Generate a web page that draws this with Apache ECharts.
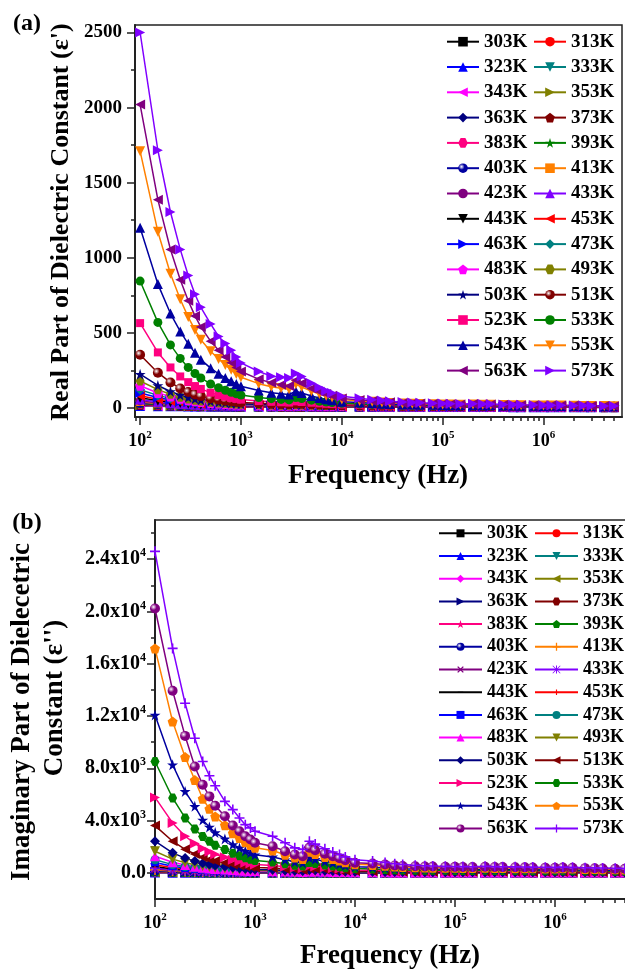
<!DOCTYPE html>
<html>
<head>
<meta charset="utf-8">
<script src="https://cdn.jsdelivr.net/npm/echarts@6/dist/echarts.min.js"></script>
<style>
  html, body { margin: 0; padding: 0; background: #fff; }
  #chartA { position: absolute; left: 0; top: 0; width: 625px; height: 490px; }
  #chartB { position: absolute; left: 0; top: 490px; width: 625px; height: 481px; }
</style>
</head>
<body>
<div id="chartA"></div>
<div id="chartB"></div>
<script>
// frequencies (Hz)
const freq = [100, 150, 200, 250, 300, 350, 400, 500, 600, 700, 800, 900, 1000, 1500, 2000, 2500, 3000, 3500, 4000, 5000,
  6000, 7000, 8000, 10000, 15000, 20000, 25000, 30000, 40000, 50000, 60000, 80000, 100000, 120000, 150000, 200000, 250000, 300000, 400000, 500000,
  600000, 800000, 1000000, 1200000, 1500000, 2000000, 2500000, 3000000, 4000000, 5000000];

const temps = ['303K', '313K', '323K', '333K', '343K', '353K', '363K', '373K', '383K', '393K', '403K', '413K', '423K', '433K',
  '443K', '453K', '463K', '473K', '483K', '493K', '503K', '513K', '523K', '533K', '543K', '553K', '563K', '573K'];

// tick labels
const xExponents = [2, 3, 4, 5, 6];
const yTicksA = [0, 500, 1000, 1500, 2000, 2500];
const yMinorA = [250, 750, 1250, 1750, 2250];
const yTicksB = [0, 4000, 8000, 12000, 16000, 20000, 24000];
const yMinorB = [2000, 6000, 10000, 14000, 18000, 22000, 26000];

// (a) real part, eps'
const re303 = [12, 11, 10, 10, 9, 9, 9, 9, 8, 8, 8, 8, 8, 8, 8, 7, 7, 7, 7, 7, 7, 7, 7, 6, 6, 6, 6, 6, 6, 6, 6, 6, 6, 5, 5, 5, 5, 5, 5, 5, 5, 5, 5, 5, 5, 5, 5, 4, 4, 4];
const re313 = [13, 12, 11, 10, 10, 10, 9, 9, 9, 9, 8, 8, 8, 8, 8, 8, 8, 8, 8, 7, 7, 7, 7, 7, 7, 6, 6, 6, 6, 6, 6, 6, 6, 6, 6, 6, 6, 5, 5, 5, 5, 5, 5, 5, 5, 5, 5, 5, 5, 4];
const re323 = [14, 12, 11, 11, 10, 10, 10, 9, 9, 9, 9, 9, 8, 8, 8, 8, 8, 8, 8, 8, 7, 7, 7, 7, 7, 7, 7, 6, 6, 6, 6, 6, 6, 6, 6, 6, 6, 6, 6, 5, 5, 5, 5, 5, 5, 5, 5, 5, 5, 5];
const re333 = [15, 13, 12, 11, 11, 10, 10, 10, 9, 9, 9, 9, 9, 8, 8, 8, 8, 8, 8, 8, 8, 7, 7, 7, 7, 7, 7, 7, 6, 6, 6, 6, 6, 6, 6, 6, 6, 6, 6, 6, 6, 5, 5, 5, 5, 5, 5, 5, 5, 5];
const re343 = [16, 14, 13, 12, 11, 11, 10, 10, 10, 10, 9, 9, 9, 9, 9, 8, 8, 9, 8, 8, 8, 8, 8, 7, 7, 7, 7, 7, 7, 7, 7, 6, 6, 6, 6, 6, 6, 6, 6, 6, 6, 6, 6, 6, 5, 5, 5, 5, 5, 5];
const re353 = [18, 15, 14, 13, 12, 12, 11, 11, 10, 10, 10, 10, 10, 9, 9, 9, 9, 9, 9, 8, 8, 8, 8, 8, 8, 7, 7, 7, 7, 7, 7, 7, 7, 6, 6, 7, 6, 6, 6, 6, 6, 6, 6, 6, 6, 6, 5, 5, 5, 5];
const re363 = [20, 17, 15, 14, 13, 12, 12, 11, 11, 11, 10, 10, 10, 10, 9, 9, 9, 9, 9, 9, 8, 8, 8, 8, 8, 8, 7, 7, 7, 7, 7, 7, 7, 7, 7, 7, 7, 6, 6, 6, 6, 6, 6, 6, 6, 6, 6, 5, 5, 5];
const re373 = [22, 18, 16, 15, 14, 13, 12, 12, 11, 11, 11, 11, 10, 10, 10, 9, 9, 10, 9, 9, 9, 9, 8, 8, 8, 8, 8, 8, 7, 7, 7, 7, 7, 7, 7, 7, 7, 7, 7, 6, 6, 6, 6, 6, 6, 6, 6, 6, 5, 5];
const re383 = [25, 20, 17, 16, 15, 14, 13, 12, 12, 12, 11, 11, 11, 10, 10, 10, 10, 10, 10, 10, 9, 9, 9, 9, 8, 8, 8, 8, 8, 8, 8, 7, 7, 7, 7, 7, 7, 7, 7, 7, 7, 6, 6, 6, 6, 6, 6, 6, 6, 5];
const re393 = [29, 23, 19, 17, 16, 15, 14, 13, 13, 12, 12, 12, 11, 11, 11, 10, 10, 11, 10, 10, 10, 9, 9, 9, 9, 9, 8, 8, 8, 8, 8, 8, 8, 8, 8, 8, 7, 7, 7, 7, 7, 7, 7, 7, 7, 6, 6, 6, 6, 6];
const re403 = [34, 26, 22, 19, 18, 16, 15, 14, 14, 13, 13, 12, 12, 11, 11, 11, 11, 11, 11, 10, 10, 10, 10, 9, 9, 9, 9, 9, 9, 8, 8, 8, 8, 8, 8, 8, 8, 8, 7, 7, 7, 7, 7, 7, 7, 7, 6, 6, 6, 6];
const re413 = [40, 30, 25, 22, 20, 18, 17, 16, 15, 14, 14, 13, 13, 12, 12, 11, 11, 12, 12, 11, 11, 10, 10, 10, 10, 9, 9, 9, 9, 9, 9, 8, 8, 8, 8, 8, 8, 8, 8, 8, 7, 7, 7, 7, 7, 7, 7, 7, 6, 6];
const re423 = [47, 35, 29, 25, 22, 20, 19, 17, 16, 15, 15, 14, 14, 13, 12, 12, 12, 13, 12, 12, 11, 11, 11, 10, 10, 10, 10, 9, 9, 9, 9, 9, 9, 9, 8, 9, 8, 8, 8, 8, 8, 8, 7, 8, 7, 7, 7, 7, 7, 6];
const re433 = [56, 41, 33, 28, 25, 23, 21, 19, 18, 17, 16, 15, 15, 14, 13, 13, 12, 14, 13, 12, 12, 12, 11, 11, 11, 10, 10, 10, 10, 10, 9, 9, 9, 9, 9, 9, 9, 9, 8, 8, 8, 8, 8, 8, 8, 8, 7, 7, 7, 7];
const re443 = [68, 49, 39, 33, 29, 26, 24, 21, 20, 18, 18, 17, 16, 15, 14, 14, 13, 15, 14, 13, 13, 12, 12, 12, 11, 11, 11, 10, 10, 10, 10, 10, 9, 9, 9, 10, 9, 9, 9, 9, 8, 8, 8, 8, 8, 8, 8, 7, 7, 7];
const re453 = [82, 58, 46, 38, 33, 30, 27, 24, 22, 20, 19, 18, 18, 16, 15, 14, 14, 16, 15, 14, 13, 13, 13, 12, 12, 11, 11, 11, 10, 10, 10, 10, 10, 10, 9, 10, 9, 9, 9, 9, 9, 9, 8, 9, 8, 8, 8, 8, 8, 7];
const re463 = [100, 70, 54, 44, 38, 34, 31, 27, 24, 22, 21, 20, 19, 17, 16, 15, 15, 17, 16, 15, 14, 14, 13, 13, 12, 12, 11, 11, 11, 11, 10, 10, 10, 10, 10, 10, 10, 10, 9, 9, 9, 9, 9, 9, 9, 8, 8, 8, 8, 8];
const re473 = [122, 84, 64, 52, 44, 39, 35, 30, 27, 25, 23, 22, 21, 18, 17, 16, 16, 18, 17, 16, 15, 15, 14, 14, 13, 12, 12, 12, 11, 11, 11, 11, 11, 10, 10, 11, 10, 10, 10, 10, 9, 9, 9, 9, 9, 9, 8, 8, 8, 8];
const re483 = [148, 100, 76, 61, 51, 45, 40, 34, 30, 27, 25, 24, 23, 20, 18, 17, 17, 19, 18, 17, 16, 15, 15, 14, 13, 13, 12, 12, 12, 12, 11, 11, 11, 11, 11, 11, 11, 10, 10, 10, 10, 10, 9, 10, 9, 9, 9, 9, 8, 8];
const re493 = [180, 122, 91, 72, 60, 52, 46, 39, 34, 31, 28, 26, 25, 22, 20, 19, 18, 21, 20, 18, 17, 16, 16, 15, 14, 13, 13, 13, 12, 12, 12, 12, 11, 11, 11, 12, 11, 11, 11, 10, 10, 10, 10, 10, 10, 9, 9, 9, 9, 9];
const re503 = [225, 150, 110, 86, 71, 61, 54, 45, 39, 35, 32, 30, 28, 24, 22, 21, 20, 24, 22, 20, 19, 18, 17, 16, 15, 14, 14, 13, 13, 13, 12, 12, 12, 12, 11, 12, 11, 11, 11, 11, 10, 10, 10, 10, 10, 10, 9, 9, 9, 9];
const re513 = [355, 235, 170, 130, 106, 90, 79, 64, 55, 48, 44, 40, 37, 31, 28, 26, 25, 30, 28, 25, 23, 21, 20, 18, 17, 16, 15, 15, 14, 14, 13, 13, 13, 12, 12, 13, 12, 12, 12, 11, 11, 11, 10, 11, 10, 10, 10, 10, 9, 9];
const re523 = [565, 370, 270, 210, 172, 146, 127, 102, 86, 75, 67, 61, 56, 46, 41, 38, 36, 44, 40, 35, 31, 28, 26, 23, 21, 19, 18, 17, 16, 15, 15, 14, 14, 13, 13, 14, 13, 13, 12, 12, 12, 11, 11, 12, 11, 11, 10, 10, 10, 9];
const re533 = [845, 570, 420, 330, 270, 230, 200, 160, 135, 118, 105, 95, 86, 70, 62, 57, 54, 70, 63, 52, 45, 40, 36, 31, 27, 24, 22, 21, 19, 18, 17, 16, 16, 15, 15, 16, 15, 15, 14, 14, 13, 13, 12, 13, 12, 12, 11, 11, 11, 10];
const re543 = [1200, 825, 629, 510, 427, 367, 322, 265, 228, 200, 178, 160, 145, 116, 101, 94, 90, 112, 100, 80, 67, 59, 52, 42, 36, 31, 29, 27, 24, 23, 22, 21, 20, 19, 18, 19, 18, 18, 17, 16, 15, 15, 14, 15, 14, 14, 13, 13, 12, 11];
const re553 = [1710, 1174, 894, 724, 605, 520, 455, 378, 326, 286, 254, 227, 205, 162, 142, 132, 125, 158, 140, 112, 93, 80, 70, 56, 47, 41, 37, 34, 30, 29, 27, 25, 24, 23, 22, 23, 22, 21, 20, 19, 18, 17, 16, 16, 16, 15, 14, 14, 13, 12];
const re563 = [2020, 1387, 1055, 854, 714, 613, 540, 445, 385, 340, 302, 270, 243, 192, 168, 155, 147, 184, 164, 130, 108, 93, 81, 64, 54, 46, 42, 38, 34, 32, 30, 28, 26, 25, 24, 26, 24, 23, 21, 20, 19, 18, 17, 18, 17, 16, 15, 14, 13, 12];
const re573 = [2500, 1716, 1305, 1056, 882, 757, 670, 560, 476, 430, 385, 340, 300, 243, 212, 205, 200, 230, 210, 165, 136, 115, 99, 78, 65, 55, 50, 45, 40, 37, 35, 32, 30, 29, 27, 29, 27, 26, 24, 22, 21, 20, 18, 19, 18, 17, 16, 15, 14, 13];

// (b) imaginary part, eps''
const im303 = [15, 10, 7, 6, 5, 4, 4, 3, 3, 3, 2, 2, 2, 2, 2, 2, 1, 2, 2, 1, 1, 1, 1, 1, 1, 1, 1, 1, 1, 1, 1, 1, 1, 1, 1, 1, 1, 1, 1, 1, 1, 1, 1, 1, 1, 1, 1, 1, 1, 1];
const im313 = [18, 12, 9, 7, 6, 5, 5, 4, 3, 3, 3, 3, 2, 2, 2, 2, 2, 2, 2, 2, 1, 1, 1, 1, 1, 1, 1, 1, 1, 1, 1, 1, 1, 1, 1, 1, 1, 1, 1, 1, 1, 1, 1, 1, 1, 1, 1, 1, 1, 1];
const im323 = [22, 14, 11, 9, 7, 6, 6, 5, 4, 4, 3, 3, 3, 3, 2, 2, 2, 2, 2, 2, 2, 2, 1, 1, 1, 1, 1, 1, 1, 1, 1, 1, 1, 1, 1, 1, 1, 1, 1, 1, 1, 1, 1, 1, 1, 1, 1, 1, 1, 1];
const im333 = [28, 18, 13, 11, 9, 8, 7, 6, 5, 5, 4, 4, 4, 3, 3, 2, 2, 3, 3, 2, 2, 2, 2, 1, 1, 1, 1, 1, 1, 1, 1, 1, 1, 1, 1, 1, 1, 1, 1, 1, 1, 1, 1, 1, 1, 1, 1, 1, 1, 1];
const im343 = [35, 23, 17, 13, 11, 10, 9, 7, 6, 6, 5, 5, 4, 4, 3, 3, 3, 3, 3, 3, 2, 2, 2, 2, 2, 1, 1, 1, 1, 1, 1, 1, 1, 1, 1, 1, 1, 1, 1, 1, 1, 1, 1, 1, 1, 1, 1, 1, 1, 1];
const im353 = [45, 29, 21, 17, 14, 12, 11, 9, 8, 7, 6, 6, 5, 5, 4, 3, 3, 4, 4, 3, 3, 3, 2, 2, 2, 2, 2, 2, 1, 1, 1, 1, 1, 1, 1, 1, 1, 1, 1, 1, 1, 1, 1, 1, 1, 1, 1, 1, 1, 1];
const im363 = [60, 38, 28, 22, 19, 16, 14, 12, 10, 9, 8, 7, 7, 6, 5, 4, 4, 5, 5, 4, 4, 3, 3, 3, 2, 2, 2, 2, 2, 2, 2, 2, 2, 2, 2, 2, 2, 2, 1, 1, 1, 1, 1, 1, 1, 1, 1, 1, 1, 1];
const im373 = [80, 51, 38, 30, 25, 21, 19, 16, 14, 12, 11, 10, 9, 8, 7, 6, 5, 7, 6, 5, 5, 4, 4, 3, 3, 3, 2, 2, 2, 2, 2, 2, 2, 2, 2, 2, 2, 2, 2, 2, 2, 2, 2, 2, 2, 2, 1, 1, 1, 1];
const im383 = [100, 63, 47, 37, 31, 27, 24, 20, 17, 15, 13, 12, 11, 10, 8, 7, 6, 9, 8, 7, 6, 5, 5, 4, 3, 3, 3, 3, 2, 2, 2, 2, 2, 2, 2, 2, 2, 2, 2, 2, 2, 2, 2, 2, 2, 2, 2, 2, 2, 2];
const im393 = [130, 82, 61, 48, 40, 35, 31, 26, 22, 19, 17, 15, 14, 12, 10, 8, 8, 11, 10, 9, 8, 7, 6, 5, 4, 4, 4, 3, 3, 3, 3, 3, 3, 3, 3, 3, 3, 3, 3, 3, 2, 2, 2, 2, 2, 2, 2, 2, 2, 2];
const im403 = [170, 107, 79, 63, 52, 45, 40, 34, 28, 25, 22, 20, 18, 16, 13, 11, 10, 15, 14, 11, 10, 9, 8, 6, 6, 5, 5, 4, 4, 4, 4, 4, 4, 4, 4, 4, 4, 4, 3, 3, 3, 3, 3, 3, 3, 3, 3, 3, 3, 2];
const im413 = [220, 139, 103, 82, 68, 59, 52, 44, 37, 32, 29, 26, 24, 21, 17, 14, 13, 19, 18, 15, 13, 11, 10, 8, 7, 7, 6, 6, 5, 5, 5, 5, 5, 5, 5, 5, 5, 5, 4, 4, 4, 4, 4, 4, 4, 4, 4, 4, 3, 3];
const im423 = [290, 183, 135, 108, 89, 77, 68, 57, 48, 43, 38, 34, 31, 28, 23, 19, 17, 26, 23, 19, 17, 15, 13, 11, 10, 9, 8, 7, 7, 7, 7, 6, 6, 6, 6, 6, 6, 6, 6, 6, 6, 6, 6, 6, 6, 5, 5, 5, 4, 4];
const im433 = [370, 234, 173, 138, 114, 99, 87, 73, 62, 54, 48, 44, 40, 35, 29, 24, 22, 33, 30, 25, 22, 19, 17, 14, 13, 11, 10, 9, 9, 9, 9, 8, 8, 8, 8, 8, 8, 8, 7, 7, 7, 7, 7, 7, 7, 6, 6, 6, 6, 5];
const im443 = [480, 303, 224, 179, 148, 128, 113, 95, 80, 71, 62, 57, 51, 46, 37, 31, 28, 42, 38, 32, 28, 25, 22, 18, 16, 14, 13, 12, 12, 11, 11, 11, 10, 10, 10, 11, 10, 10, 10, 10, 9, 9, 9, 9, 9, 8, 8, 8, 7, 7];
const im453 = [620, 392, 290, 231, 191, 166, 146, 123, 104, 91, 81, 73, 66, 59, 48, 40, 37, 55, 50, 42, 37, 32, 28, 23, 21, 19, 17, 16, 15, 14, 14, 14, 13, 13, 13, 14, 13, 13, 12, 12, 12, 12, 12, 12, 12, 11, 11, 10, 9, 9];
const im463 = [800, 506, 374, 298, 246, 214, 189, 158, 134, 118, 104, 94, 86, 76, 62, 52, 47, 70, 64, 54, 47, 42, 36, 30, 27, 24, 22, 20, 19, 18, 18, 18, 17, 17, 17, 18, 17, 17, 16, 16, 15, 15, 15, 15, 15, 14, 14, 13, 12, 11];
const im473 = [1000, 632, 467, 372, 308, 267, 236, 198, 167, 147, 130, 118, 107, 95, 78, 65, 59, 88, 80, 67, 59, 52, 45, 37, 34, 30, 27, 25, 24, 23, 23, 22, 21, 21, 21, 22, 21, 21, 20, 20, 19, 19, 19, 19, 19, 17, 17, 16, 15, 14];
const im483 = [1275, 810, 595, 475, 393, 340, 300, 253, 213, 187, 166, 150, 137, 121, 99, 83, 75, 113, 102, 86, 75, 66, 58, 47, 43, 38, 34, 32, 30, 29, 29, 28, 27, 27, 26, 27, 26, 26, 25, 25, 25, 24, 24, 25, 24, 22, 21, 21, 20, 19];
const im493 = [1656, 1050, 770, 615, 510, 440, 390, 328, 277, 243, 215, 195, 178, 157, 128, 108, 98, 146, 133, 111, 98, 86, 75, 62, 56, 50, 45, 41, 39, 38, 37, 37, 36, 35, 34, 36, 35, 34, 33, 33, 32, 31, 31, 32, 31, 29, 28, 27, 25, 24];
const im503 = [2420, 1530, 1130, 900, 745, 645, 570, 480, 405, 355, 315, 285, 260, 230, 188, 158, 143, 214, 194, 163, 143, 126, 110, 90, 82, 73, 65, 60, 57, 56, 55, 54, 52, 51, 50, 53, 51, 50, 49, 48, 47, 46, 45, 47, 45, 42, 40, 39, 37, 35];
const im513 = [3617, 2420, 1800, 1440, 1190, 1030, 910, 770, 645, 565, 500, 455, 410, 365, 300, 250, 228, 340, 310, 260, 228, 200, 174, 142, 130, 115, 102, 94, 90, 88, 86, 84, 82, 80, 79, 84, 80, 79, 77, 75, 74, 72, 70, 74, 70, 65, 63, 61, 58, 55];
const im523 = [5775, 3820, 2800, 2250, 1860, 1610, 1420, 1200, 1000, 880, 780, 710, 640, 570, 465, 390, 355, 530, 480, 405, 355, 310, 270, 220, 200, 180, 160, 145, 140, 136, 133, 130, 128, 125, 122, 130, 125, 122, 120, 117, 115, 112, 110, 115, 110, 100, 98, 95, 90, 86];
const im533 = [8520, 5730, 4200, 3350, 2780, 2410, 2120, 1790, 1500, 1310, 1160, 1050, 950, 840, 690, 580, 530, 790, 715, 600, 530, 460, 400, 325, 300, 265, 235, 215, 205, 200, 198, 195, 190, 186, 182, 194, 186, 182, 178, 174, 170, 166, 162, 170, 162, 150, 145, 140, 132, 128];
const im543 = [12085, 8270, 6235, 5090, 4050, 3510, 3080, 2600, 2170, 1910, 1680, 1530, 1380, 1220, 1000, 840, 765, 1150, 1040, 875, 770, 670, 575, 470, 430, 385, 340, 310, 300, 295, 290, 282, 276, 270, 264, 282, 270, 264, 258, 252, 246, 240, 234, 246, 234, 216, 210, 204, 192, 186];
const im553 = [17175, 11575, 8860, 7100, 5670, 4900, 4320, 3640, 3040, 2670, 2350, 2140, 1930, 1710, 1390, 1180, 1070, 1610, 1450, 1220, 1070, 940, 810, 660, 600, 540, 480, 440, 420, 410, 400, 395, 385, 380, 370, 395, 380, 370, 360, 350, 345, 335, 330, 345, 330, 300, 295, 285, 270, 260];
const im563 = [20230, 13940, 10480, 8140, 6745, 5850, 5140, 4330, 3620, 3180, 2800, 2550, 2300, 2040, 1660, 1400, 1275, 1915, 1732, 1457, 1280, 1120, 960, 780, 720, 640, 570, 520, 500, 490, 480, 470, 460, 450, 440, 470, 450, 440, 430, 420, 410, 400, 390, 410, 390, 360, 350, 340, 320, 310];
const im573 = [24600, 17175, 12980, 10300, 8520, 7430, 6670, 5470, 4840, 4200, 3690, 3440, 3180, 2800, 2300, 1915, 1785, 2420, 2200, 1850, 1600, 1400, 1220, 1000, 900, 800, 700, 640, 580, 540, 520, 500, 490, 480, 470, 500, 480, 470, 460, 450, 440, 430, 420, 440, 420, 390, 380, 370, 350, 340];

const realPart = [re303, re313, re323, re333, re343, re353, re363, re373, re383, re393, re403, re413, re423, re433,
  re443, re453, re463, re473, re483, re493, re503, re513, re523, re533, re543, re553, re563, re573];
const imagPart = [im303, im313, im323, im333, im343, im353, im363, im373, im383, im393, im403, im413, im423, im433,
  im443, im453, im463, im473, im483, im493, im503, im513, im523, im533, im543, im553, im563, im573];

const FONT = '"Liberation Serif", "Times New Roman", serif';
const AXIS = '#222';
const COLORS = ['#000000', '#FF0000', '#0000FF', '#008080', '#FF00FF', '#808000', '#000080',
  '#800000', '#FF0080', '#008000', '#0000A0', '#FF8000', '#800080', '#8000FF'];

const PENTAGON = 'path://M50,0L97.6,34.5L79.4,90.5L20.6,90.5L2.4,34.5Z';
const HEXAGON = 'path://M25,0L75,0L100,50L75,100L25,100L0,50Z';
const STAR = 'path://M50,0L61.2,34.6L97.6,34.6L68.1,55.9L79.4,90.5L50,69L20.6,90.5L31.9,55.9L2.4,34.6L38.8,34.6Z';
const PLUS = 'path://M42,0L58,0L58,42L100,42L100,58L58,58L58,100L42,100L42,58L0,58L0,42L42,42Z';
const ASTER = 'path://M44,0L56,0L56,100L44,100Z M0,44L100,44L100,56L0,56Z M6,0L100,94L94,100L0,6Z M94,0L100,6L6,100L0,94Z';
const HBAR = 'path://M0,0L0.01,0L0,0.01Z M100,100L99.99,100L100,99.99Z M15,43L85,43L85,57L15,57Z';
const VBAR = 'path://M0,0L0.01,0L0,0.01Z M100,100L99.99,100L100,99.99Z M43,15L57,15L57,85L43,85Z';

const SHAPES = {
  square: {symbol: 'rect', size: 8},
  circle: {symbol: 'circle', size: 9},
  up: {symbol: 'triangle', size: 10},
  down: {symbol: 'triangle', size: 10, rotate: 180},
  left: {symbol: 'triangle', size: 10, rotate: 90},
  right: {symbol: 'triangle', size: 10, rotate: -90},
  diamond: {symbol: 'diamond', size: 10},
  pentagon: {symbol: PENTAGON, size: 10},
  hexagon: {symbol: HEXAGON, size: 9},
  star: {symbol: STAR, size: 11},
  sphere: {symbol: 'circle', size: 10, sphere: true},
  plus: {symbol: PLUS, size: 10},
  cross: {symbol: PLUS, size: 10, rotate: 45},
  asterisk: {symbol: ASTER, size: 10},
  hbar: {symbol: HBAR, size: 10},
  vbar: {symbol: VBAR, size: 10}
};
const shapesA = ['square', 'circle', 'up', 'down', 'left', 'right', 'diamond', 'pentagon', 'hexagon', 'star', 'sphere'];
const shapesB = ['square', 'circle', 'up', 'down', 'diamond', 'left', 'right', 'hexagon', 'star', 'pentagon',
  'sphere', 'plus', 'cross', 'asterisk', 'hbar', 'vbar'];

function makeSeries(values, shapes) {
  return temps.map((name, i) => {
    const color = COLORS[i % COLORS.length];
    const shape = SHAPES[shapes[i % shapes.length]];
    const fill = shape.sphere ? {
      type: 'radial', x: 0.35, y: 0.35, r: 0.7,
      colorStops: [{offset: 0, color: '#ffffff'}, {offset: 0.45, color: color}, {offset: 1, color: color}]
    } : color;
    return {
      name: name,
      type: 'line',
      xAxisIndex: 0,
      yAxisIndex: 0,
      data: freq.map((f, k) => [f, values[i][k]]),
      symbol: shape.symbol,
      symbolSize: shape.size,
      symbolRotate: shape.rotate || 0,
      itemStyle: {color: fill, borderWidth: 0},
      lineStyle: {color: color, width: 1.5},
      emphasis: {disabled: true},
      animation: false
    };
  });
}

function minorLogTicks(lo, hi) {
  const out = [];
  for (let d = 1; d <= 6; d++) {
    for (let m = 2; m <= 9; m++) {
      const v = Math.log10(m * Math.pow(10, d));
      if (v > lo && v < hi) out.push(v);
    }
  }
  return out;
}

const boldText = size => ({fontFamily: FONT, fontWeight: 'bold', fontSize: size, color: '#000'});
// base text plus a raised small exponent
const supRich = (base, sup) => ({
  b: Object.assign(boldText(base), {lineHeight: base + 4}),
  s: Object.assign(boldText(sup), {lineHeight: sup + 1, verticalAlign: 'top'})
});

function buildOption(cfg) {
  const lo = Math.log10(cfg.xMin), hi = Math.log10(cfg.xMax);
  const col1 = temps.filter((t, i) => i % 2 === 0);
  const col2 = temps.filter((t, i) => i % 2 === 1);
  const legendBase = {
    orient: 'vertical', top: cfg.legendTop, padding: 0,
    itemWidth: cfg.legendItemWidth, itemHeight: cfg.legendItemHeight, itemGap: cfg.legendGap,
    textStyle: Object.assign(boldText(cfg.legendFont), {lineHeight: cfg.legendLine}),
    selectedMode: false
  };
  return {
    animation: false,
    textStyle: {fontFamily: FONT},
    grid: {
      left: cfg.grid.left, top: cfg.grid.top, width: cfg.grid.width, height: cfg.grid.height,
      show: true, borderColor: AXIS, borderWidth: 1.5, outerBoundsMode: 'none', containLabel: false
    },
    legend: [
      Object.assign({}, legendBase, {left: cfg.legendLeft[0], data: col1}),
      Object.assign({}, legendBase, {left: cfg.legendLeft[1], data: col2})
    ],
    xAxis: [
      {
        type: 'log', logBase: 10, min: cfg.xMin, max: cfg.xMax,
        axisLine: {show: true, onZero: false, lineStyle: {color: AXIS, width: 2}},
        axisTick: {show: false}, axisLabel: {show: false}, splitLine: {show: false}
      },
      {
        type: 'value', position: 'bottom', min: lo, max: hi,
        axisLine: {show: false, onZero: false},
        axisTick: {show: true, customValues: xExponents, length: 8, lineStyle: {color: AXIS, width: 1.5}},
        axisLabel: {
          show: true, customValues: xExponents, margin: cfg.xLabelMargin,
          formatter: v => '{b|10}{s|' + Math.round(v) + '}',
          rich: supRich(18, 11)
        },
        splitLine: {show: false}
      },
      {
        type: 'value', position: 'bottom', min: lo, max: hi,
        axisLine: {show: false, onZero: false},
        axisTick: {show: true, customValues: minorLogTicks(lo, hi), length: 4, lineStyle: {color: AXIS, width: 1.5}},
        axisLabel: {show: false}, splitLine: {show: false}
      }
    ],
    yAxis: [
      {
        type: 'value', min: cfg.yMin, max: cfg.yMax,
        axisLine: {show: true, onZero: false, lineStyle: {color: AXIS, width: 2}},
        axisTick: {show: true, customValues: cfg.yTicks, length: 8, lineStyle: {color: AXIS, width: 1.5}},
        axisLabel: Object.assign({customValues: cfg.yTicks, margin: cfg.yLabelMargin}, cfg.yLabel),
        splitLine: {show: false}
      },
      {
        type: 'value', position: 'left', min: cfg.yMin, max: cfg.yMax,
        axisLine: {show: false, onZero: false},
        axisTick: {show: true, customValues: cfg.yMinor, length: 4, lineStyle: {color: AXIS, width: 1.5}},
        axisLabel: {show: false}, splitLine: {show: false}
      }
    ],
    graphic: cfg.graphic,
    series: cfg.series
  };
}

function label(text, x, y, size, rotate) {
  return {
    type: 'text', x: x, y: y, rotation: rotate ? Math.PI / 2 : 0,
    style: {text: text, font: 'bold ' + size + 'px ' + FONT, fill: '#000', align: 'center', verticalAlign: 'middle'}
  };
}

const optionA = buildOption({
  xMin: 89, xMax: 6e6,
  yMin: -60, yMax: 2550, yTicks: yTicksA, yMinor: yMinorA,
  grid: {left: 135, top: 25, width: 487, height: 392},
  xLabelMargin: 13, yLabelMargin: 13,
  yLabel: Object.assign(boldText(19), {formatter: v => String(v)}),
  legendTop: 31.7, legendLeft: [446, 533], legendItemWidth: 32, legendItemHeight: 12, legendGap: 5.3,
  legendFont: 19, legendLine: 20,
  graphic: [
    label('(a)', 27, 24, 24, false),
    label('Real Part of Dielectric Constant (\u03b5\')', 61, 222, 26, true),
    label('Frequency (Hz)', 378, 476, 27, false)
  ],
  series: makeSeries(realPart, shapesA)
});

const optionB = buildOption({
  xMin: 100, xMax: 5.5e6,
  yMin: -2000, yMax: 27000, yTicks: yTicksB, yMinor: yMinorB,
  grid: {left: 155, top: 30, width: 474, height: 379},
  xLabelMargin: 13, yLabelMargin: 9,
  yLabel: {
    formatter: v => v === 0 ? '{b|0.0}' : (v < 10000
      ? '{b|' + (v / 1000).toFixed(1) + 'x10}{s|3}'
      : '{b|' + (v / 10000).toFixed(1) + 'x10}{s|4}'),
    rich: supRich(20, 12)
  },
  legendTop: 34.3, legendLeft: [438, 534], legendItemWidth: 43, legendItemHeight: 10, legendGap: 4.7,
  legendFont: 18, legendLine: 18,
  graphic: [
    label('(b)', 27, 33, 24, false),
    label('Imaginary Part of Dielecetric', 22, 222, 27, true),
    label('Constant (\u03b5\'\')', 55, 208, 27, true),
    label('Frequency (Hz)', 390, 466, 27, false)
  ],
  series: makeSeries(imagPart, shapesB)
});

const chartA = echarts.init(document.getElementById('chartA'), null, {renderer: 'canvas'});
chartA.setOption(optionA);
const chartB = echarts.init(document.getElementById('chartB'), null, {renderer: 'canvas'});
chartB.setOption(optionB);
</script>
</body>
</html>
